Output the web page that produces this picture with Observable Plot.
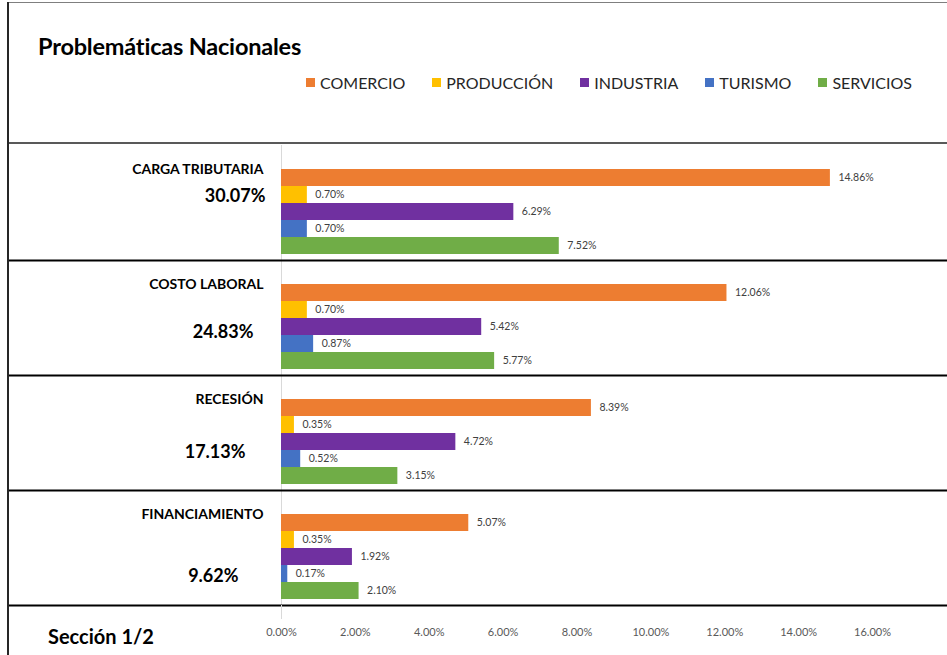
<!DOCTYPE html>
<html>
<head>
<meta charset="utf-8">
<script src="https://cdn.jsdelivr.net/npm/d3@7"></script>
<script src="https://cdn.jsdelivr.net/npm/@observablehq/plot@0.6"></script>
<style>
  body { margin: 0; background: #fff; font-family: Lato, "Noto Sans", sans-serif; }
  #wrap { position: relative; width: 947px; height: 655px; overflow: hidden; background: #fff; }
  #title { position: absolute; left: 38px; top: 32px; font-weight: bold; font-size: 23.5px; color: #000; letter-spacing: -0.2px; }
  #legend { position: absolute; left: 306px; top: 73px; display: flex; gap: 27px; font-size: 16px; color: #262626; }
  #legend .item { display: flex; align-items: center; gap: 5px; }
  #legend .sw { width: 9px; height: 9px; display: inline-block; }
  #chart { position: absolute; left: 0; top: 143px; }
  #footer { position: absolute; left: 48px; top: 624px; font-weight: bold; font-size: 20px; color: #000; }
  .topline { position: absolute; left: 8px; top: 2px; width: 939px; height: 1px; background: #7f7f7f; }
  .sepline { position: absolute; left: 8px; top: 142px; width: 939px; height: 2px; background: #595959; }
  .leftline { position: absolute; left: 7px; top: 2px; width: 2px; height: 653px; background: #262626; }
</style>
</head>
<body>
<div id="wrap">
  <div id="title">Problemáticas Nacionales</div>
  <div id="legend"></div>
  <div id="chart"></div>
  <div id="footer">Sección 1/2</div>
  <div class="topline"></div>
  <div class="sepline"></div>
  <div class="leftline"></div>
</div>
<script>
// ---- data ----
const categories = ["CARGA TRIBUTARIA", "COSTO LABORAL", "RECESIÓN", "FINANCIAMIENTO"];
const totals = [30.07, 24.83, 17.13, 9.62];
const series = ["COMERCIO", "PRODUCCIÓN", "INDUSTRIA", "TURISMO", "SERVICIOS"];
const comercio = [14.86, 12.06, 8.39, 5.07];
const produccion = [0.70, 0.70, 0.35, 0.35];
const industria = [6.29, 5.42, 4.72, 1.92];
const turismo = [0.70, 0.87, 0.52, 0.17];
const servicios = [7.52, 5.77, 3.15, 2.10];
const xTicks = [0, 2, 4, 6, 8, 10, 12, 14, 16];
const footerLabel = "Sección 1/2";

// ---- styles / layout ----
const colors = ["#ED7D31", "#FFC000", "#7030A0", "#4472C4", "#70AD47"];
const totalPlacement = [ {dx: -16, dy: 44}, {dx: -28, dy: 65}, {dx: -36, dy: 70}, {dx: -43, dy: 79} ];

const seriesValues = [comercio, produccion, industria, turismo, servicios];
const rows = [];
categories.forEach((c, i) => {
  series.forEach((s, j) => rows.push({category: c, series: s, value: seriesValues[j][i]}));
});
const catRows = categories.map((c, i) => ({category: c, total: totals[i]}));

// legend
const legend = document.getElementById("legend");
series.forEach((s, j) => {
  const it = document.createElement("div");
  it.className = "item";
  it.innerHTML = `<span class="sw" style="background:${colors[j]}"></span><span>${s}</span>`;
  legend.appendChild(it);
});

const fmt = d => d.toFixed(2) + "%";

const plot = Plot.plot({
  width: 947,
  height: 512,
  marginTop: 0,
  marginBottom: 49,
  marginLeft: 8,
  marginRight: 0,
  style: {fontFamily: "Lato, 'Noto Sans', sans-serif", background: "transparent"},
  x: {domain: [0, 16], range: [281, 872], axis: null, label: null},
  fy: {domain: categories, padding: 0, axis: null},
  y: {domain: series, padding: 0, insetTop: 23, insetBottom: 5, axis: null},
  color: {domain: series, range: colors},
  marks: [
    Plot.ruleX([0], {stroke: "#d9d9d9", strokeWidth: 1}),
    Plot.barX(rows, {x: "value", y: "series", fy: "category", fill: "series"}),
    Plot.text(rows, {x: "value", y: "series", fy: "category", text: d => fmt(d.value), dx: 8, textAnchor: "start", fontSize: 10.5, fill: "#404040"}),
    Plot.text(catRows, {fy: "category", x: () => 0, text: "category", frameAnchor: "top", dx: -18, dy: 19, textAnchor: "end", fontSize: 14, fontWeight: "bold", fill: "#000"}),
    ...catRows.map((r, i) => Plot.text([r], {fy: "category", x: () => 0, text: d => fmt(d.total), frameAnchor: "top", dx: totalPlacement[i].dx, dy: totalPlacement[i].dy, textAnchor: "end", fontSize: 18, fontWeight: "bold", fill: "#000"})),
    Plot.frame({anchor: "bottom", stroke: "#000", strokeWidth: 2}),
    Plot.axisX([0], {tickSize: 14, stroke: "#d9d9d9", text: null, label: null}),
    Plot.axisX(xTicks, {tickSize: 0, tickPadding: 23, tickFormat: fmt, fontSize: 11, fill: "#595959", label: null})
  ]
});
document.getElementById("chart").appendChild(plot);
document.getElementById("footer").textContent = footerLabel;
</script>
</body>
</html>
